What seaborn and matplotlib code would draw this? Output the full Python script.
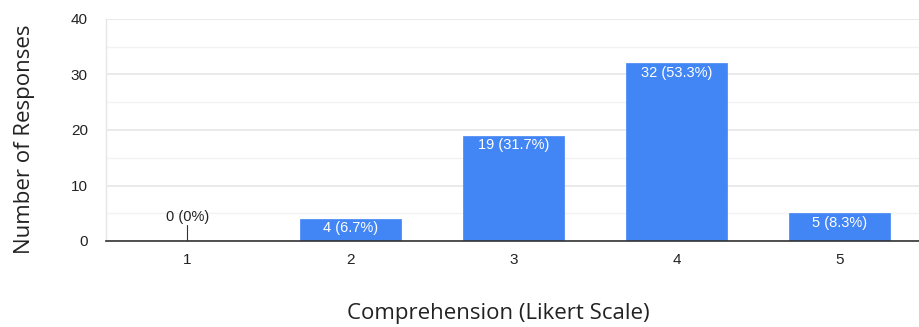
import matplotlib
matplotlib.use("Agg")
import matplotlib.pyplot as plt
import seaborn as sns
import pandas as pd
from matplotlib.ticker import MultipleLocator

categories = ["1", "2", "3", "4", "5"]
counts = [0, 4, 19, 32, 5]
labels = ["0 (0%)", "4 (6.7%)", "19 (31.7%)", "32 (53.3%)", "5 (8.3%)"]
yticks = [0, 10, 20, 30, 40]

df = pd.DataFrame({"cat": categories, "n": counts})

sns.set_theme(style="white")
plt.rcParams['font.family'] = ['Liberation Sans', 'DejaVu Sans']

fig = plt.figure(figsize=(9.2, 3.27), dpi=100)
ax = fig.add_axes([106/920, 1 - 241/327, 815/920, 222/327])

sns.barplot(data=df, x="cat", y="n", color="#4285F4", saturation=1, width=0.615,
            ax=ax, zorder=3, edgecolor="#4285F4", linewidth=0.5)

ax.set_ylim(0, 40)
ax.set_xlim(-0.5, 4.5)
ax.set_yticks(yticks)
ax.yaxis.set_minor_locator(MultipleLocator(5))
ax.grid(axis="y", which="major", color="#e6e6e6", linewidth=1.2, zorder=0)
ax.grid(axis="y", which="minor", color="#f2f2f2", linewidth=1.0, zorder=0)
ax.set_axisbelow(True)

for s in ["top", "right"]:
    ax.spines[s].set_visible(False)
ax.spines["left"].set_color("#e6e6e6")
ax.spines["left"].set_linewidth(1.0)
ax.spines["bottom"].set_color("#333333")
ax.spines["bottom"].set_linewidth(1.2)
ax.spines["bottom"].set_zorder(5)

ax.tick_params(axis="both", which="both", length=0, labelsize=11, colors="#222222")
ax.tick_params(axis="y", pad=13)
ax.tick_params(axis="x", pad=9)

ax.set_xlabel("")
ax.set_ylabel("")
fig.text(498/920, 1 - 313/327, "Comprehension (Likert Scale)", fontsize=16,
         family=["Open Sans", "DejaVu Sans"], color="#222222", ha="center", va="center")
fig.text(25/920, 1 - 139/327, "Number of Responses", fontsize=16, rotation=90,
         family=["Open Sans", "DejaVu Sans"], color="#222222", ha="center", va="center")

for i, (v, lab) in enumerate(zip(counts, labels)):
    if v == 0:
        ax.plot([i, i], [0, 2.8], color="#333333", linewidth=0.8, zorder=4)
        ax.text(i, 3.0, lab, ha="center", va="bottom", fontsize=10.5, color="#222222", zorder=4)
    else:
        ax.text(i, v - 0.45, lab, ha="center", va="top", fontsize=10.5, color="white", zorder=4)

fig.savefig("out.png", dpi=100)
